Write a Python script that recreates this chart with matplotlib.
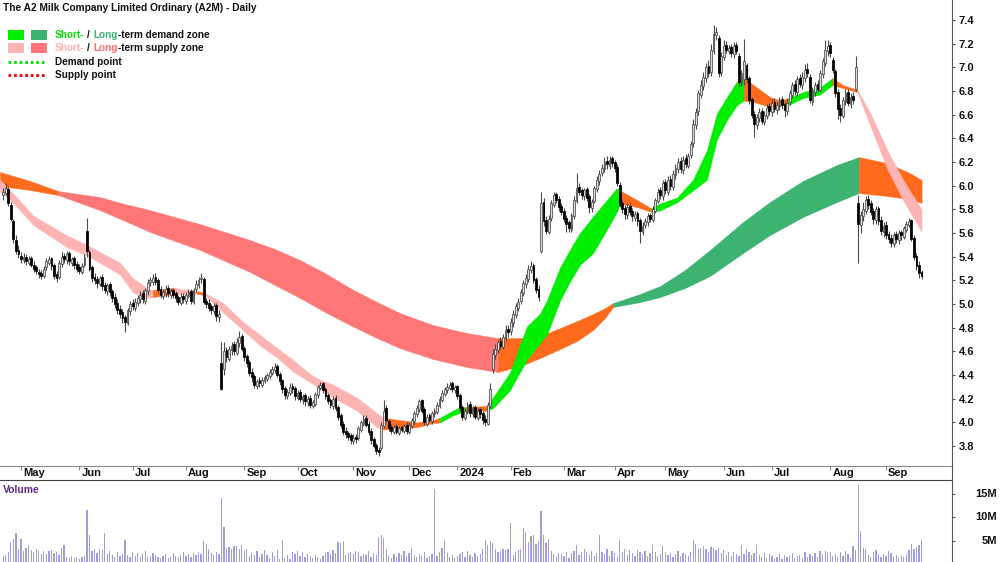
import numpy as np
import pandas as pd
import matplotlib
matplotlib.use("Agg")
import matplotlib.pyplot as plt
from matplotlib.patches import Rectangle
from matplotlib.lines import Line2D

plt.rcParams['font.family'] = ['Liberation Sans', 'DejaVu Sans']

# ---------------- data ----------------
start_date = '2023-04-19'
end_date = '2024-09-20'
holidays = ['2023-04-25', '2023-06-12', '2023-12-25', '2023-12-26', '2024-01-01',
            '2024-01-26', '2024-03-29', '2024-04-01', '2024-04-25', '2024-06-10']

opens = [5.92, 5.94, 5.97, 5.84, 5.70, 5.54, 5.46, 5.41, 5.37, 5.40,
         5.35, 5.39, 5.33, 5.31, 5.27, 5.26, 5.24, 5.31, 5.35, 5.39,
         5.33, 5.25, 5.23, 5.34, 5.41, 5.37, 5.43, 5.35, 5.39, 5.34,
         5.31, 5.27, 5.33, 5.62, 5.44, 5.31, 5.23, 5.21, 5.17, 5.23,
         5.16, 5.11, 5.17, 5.11, 5.06, 5.01, 4.96, 4.93, 4.89, 4.84,
         4.94, 5.01, 4.97, 5.01, 5.04, 5.09, 5.03, 5.11, 5.19, 5.19,
         5.23, 5.20, 5.13, 5.07, 5.09, 5.14, 5.08, 5.12, 5.09, 5.06,
         5.01, 5.07, 5.03, 5.07, 5.11, 5.02, 5.13, 5.16, 5.21, 5.21,
         5.03, 5.01, 4.98, 4.94, 4.99, 4.89, 4.50, 4.45, 4.61, 4.54,
         4.61, 4.66, 4.59, 4.67, 4.73, 4.63, 4.56, 4.51, 4.43, 4.39,
         4.31, 4.36, 4.32, 4.35, 4.37, 4.39, 4.42, 4.44, 4.48, 4.41,
         4.36, 4.29, 4.22, 4.25, 4.31, 4.29, 4.21, 4.26, 4.19, 4.23,
         4.17, 4.21, 4.14, 4.16, 4.23, 4.29, 4.33, 4.28, 4.23, 4.19,
         4.14, 4.21, 4.13, 4.06, 3.99, 3.93, 3.91, 3.89, 3.84, 3.88,
         3.87, 3.94, 3.99, 4.04, 3.99, 3.93, 3.86, 3.81, 3.77, 3.78,
         3.97, 4.12, 4.01, 3.96, 3.92, 3.97, 3.91, 3.96, 3.93, 3.98,
         3.92, 3.97, 4.01, 4.07, 4.11, 4.19, 4.11, 3.99, 4.06, 4.01,
         4.07, 4.09, 4.14, 4.19, 4.24, 4.27, 4.29, 4.33, 4.27, 4.31,
         4.23, 4.13, 4.04, 4.09, 4.16, 4.07, 4.13, 4.04, 4.11, 4.08,
         4.03, 3.99, 4.14, 4.45, 4.57, 4.61, 4.69, 4.64, 4.71, 4.79,
         4.77, 4.84, 4.91, 4.97, 5.03, 5.09, 5.17, 5.21, 5.29, 5.33,
         5.21, 5.13, 5.45, 5.86, 5.71, 5.61, 5.73, 5.84, 5.93, 5.89,
         5.83, 5.79, 5.73, 5.69, 5.63, 5.74, 5.87, 5.99, 5.96, 5.91,
         5.97, 5.91, 5.81, 5.87, 5.97, 6.04, 6.11, 6.14, 6.21, 6.17,
         6.23, 6.20, 6.16, 6.01, 5.85, 5.81, 5.75, 5.83, 5.79, 5.73,
         5.77, 5.71, 5.61, 5.67, 5.69, 5.75, 5.71, 5.79, 5.87, 5.96,
         5.91, 6.03, 5.95, 6.06, 5.99, 6.09, 6.14, 6.21, 6.13, 6.23,
         6.17, 6.26, 6.36, 6.51, 6.63, 6.77, 6.84, 6.91, 7.01, 6.96,
         7.14, 7.27, 7.25, 6.96, 7.09, 7.19, 7.14, 7.17, 7.11, 7.19,
         7.10, 6.87, 6.90, 7.02, 6.91, 6.73, 6.61, 6.51, 6.57, 6.63,
         6.54, 6.59, 6.67, 6.62, 6.71, 6.64, 6.67, 6.73, 6.69, 6.63,
         6.71, 6.77, 6.86, 6.79, 6.91, 6.85, 6.91, 6.99, 6.92, 6.71,
         6.79, 6.86, 6.81, 6.94, 7.04, 7.14, 7.19, 7.06, 6.97, 6.79,
         6.66, 6.59, 6.71, 6.79, 6.69, 6.76, 6.82, 5.85, 5.67, 5.74,
         5.79, 5.89, 5.85, 5.79, 5.71, 5.81, 5.71, 5.61, 5.67, 5.59,
         5.56, 5.51, 5.59, 5.54, 5.61, 5.57, 5.63, 5.67, 5.71, 5.56,
         5.41, 5.33, 5.27]

highs = [5.98, 6.02, 5.99, 5.86, 5.72, 5.58, 5.50, 5.44, 5.43, 5.42,
         5.41, 5.41, 5.36, 5.33, 5.30, 5.29, 5.32, 5.39, 5.41, 5.40,
         5.35, 5.28, 5.37, 5.44, 5.43, 5.45, 5.45, 5.40, 5.41, 5.36,
         5.34, 5.35, 5.42, 5.73, 5.46, 5.33, 5.26, 5.24, 5.24, 5.25,
         5.19, 5.18, 5.19, 5.13, 5.09, 5.04, 4.99, 4.96, 4.91, 4.97,
         5.03, 5.04, 5.05, 5.08, 5.11, 5.12, 5.14, 5.21, 5.23, 5.25,
         5.26, 5.22, 5.15, 5.13, 5.16, 5.16, 5.14, 5.14, 5.11, 5.08,
         5.09, 5.09, 5.10, 5.13, 5.13, 5.14, 5.20, 5.23, 5.26, 5.23,
         5.05, 5.04, 5.00, 5.01, 5.01, 4.95, 4.68, 4.68, 4.64, 4.65,
         4.68, 4.69, 4.71, 4.77, 4.75, 4.65, 4.58, 4.53, 4.46, 4.41,
         4.37, 4.38, 4.38, 4.40, 4.42, 4.45, 4.48, 4.50, 4.49, 4.43,
         4.37, 4.31, 4.28, 4.33, 4.33, 4.31, 4.27, 4.28, 4.24, 4.25,
         4.22, 4.23, 4.19, 4.26, 4.32, 4.34, 4.34, 4.30, 4.25, 4.21,
         4.22, 4.23, 4.15, 4.08, 4.01, 3.96, 3.93, 3.91, 3.90, 3.90,
         3.97, 4.02, 4.06, 4.06, 4.01, 3.95, 3.88, 3.83, 3.79, 4.00,
         4.19, 4.15, 4.03, 3.99, 3.98, 3.99, 3.97, 3.98, 3.99, 4.00,
         4.00, 4.04, 4.10, 4.15, 4.20, 4.20, 4.13, 4.07, 4.08, 4.10,
         4.12, 4.17, 4.22, 4.27, 4.30, 4.33, 4.34, 4.35, 4.32, 4.32,
         4.25, 4.15, 4.12, 4.17, 4.18, 4.14, 4.15, 4.12, 4.13, 4.10,
         4.06, 4.17, 4.33, 4.62, 4.66, 4.70, 4.72, 4.75, 4.82, 4.82,
         4.88, 4.95, 5.01, 5.05, 5.13, 5.20, 5.25, 5.33, 5.36, 5.35,
         5.23, 5.16, 5.95, 5.90, 5.74, 5.75, 5.88, 5.95, 5.95, 5.91,
         5.85, 5.81, 5.75, 5.71, 5.77, 5.91, 6.11, 6.02, 5.98, 5.98,
         5.99, 5.93, 5.89, 6.00, 6.08, 6.13, 6.18, 6.24, 6.25, 6.25,
         6.25, 6.22, 6.18, 6.03, 5.88, 5.84, 5.85, 5.86, 5.81, 5.79,
         5.79, 5.73, 5.69, 5.73, 5.77, 5.77, 5.83, 5.90, 5.98, 5.99,
         6.05, 6.06, 6.08, 6.09, 6.13, 6.18, 6.23, 6.24, 6.25, 6.27,
         6.28, 6.38, 6.56, 6.66, 6.81, 6.89, 6.96, 7.04, 7.06, 7.20,
         7.36, 7.34, 7.27, 7.13, 7.23, 7.22, 7.19, 7.20, 7.21, 7.21,
         7.12, 6.98, 7.24, 7.04, 6.93, 6.75, 6.63, 6.61, 6.66, 6.66,
         6.63, 6.69, 6.70, 6.73, 6.74, 6.71, 6.75, 6.76, 6.71, 6.73,
         6.81, 6.88, 6.89, 6.93, 6.94, 6.96, 7.03, 7.04, 6.94, 6.83,
         6.88, 6.89, 6.98, 7.08, 7.23, 7.23, 7.21, 7.09, 6.99, 6.82,
         6.69, 6.75, 6.82, 6.82, 6.78, 6.79, 7.10, 5.92, 5.79, 5.86,
         5.91, 5.92, 5.88, 5.81, 5.83, 5.83, 5.74, 5.69, 5.70, 5.62,
         5.59, 5.61, 5.62, 5.63, 5.63, 5.66, 5.70, 5.73, 5.72, 5.58,
         5.43, 5.36, 5.29]

lows = [5.88, 5.92, 5.83, 5.70, 5.52, 5.42, 5.39, 5.35, 5.35, 5.33,
        5.33, 5.31, 5.27, 5.25, 5.22, 5.21, 5.22, 5.29, 5.33, 5.29,
        5.21, 5.19, 5.21, 5.31, 5.35, 5.34, 5.33, 5.32, 5.30, 5.27,
        5.25, 5.25, 5.31, 5.40, 5.28, 5.19, 5.17, 5.14, 5.15, 5.12,
        5.09, 5.08, 5.07, 5.02, 4.97, 4.92, 4.88, 4.84, 4.76, 4.82,
        4.91, 4.95, 4.94, 4.98, 5.01, 5.01, 5.00, 5.08, 5.15, 5.16,
        5.16, 5.09, 5.05, 5.04, 5.06, 5.06, 5.05, 5.05, 5.02, 4.99,
        4.99, 5.01, 5.00, 5.05, 5.00, 5.00, 5.10, 5.14, 5.18, 5.00,
        4.97, 4.94, 4.92, 4.92, 4.86, 4.85, 4.27, 4.40, 4.51, 4.52,
        4.57, 4.57, 4.57, 4.64, 4.60, 4.52, 4.47, 4.39, 4.34, 4.29,
        4.28, 4.30, 4.30, 4.33, 4.35, 4.37, 4.40, 4.42, 4.38, 4.32,
        4.25, 4.20, 4.20, 4.23, 4.25, 4.19, 4.19, 4.17, 4.16, 4.14,
        4.14, 4.12, 4.12, 4.14, 4.21, 4.27, 4.25, 4.20, 4.16, 4.12,
        4.11, 4.10, 4.02, 3.95, 3.89, 3.87, 3.85, 3.82, 3.82, 3.83,
        3.85, 3.92, 3.97, 3.96, 3.89, 3.82, 3.78, 3.73, 3.72, 3.77,
        3.95, 4.00, 3.93, 3.90, 3.90, 3.90, 3.89, 3.92, 3.91, 3.90,
        3.90, 3.95, 3.99, 4.05, 4.09, 4.08, 3.98, 3.97, 4.00, 3.99,
        4.05, 4.07, 4.12, 4.17, 4.22, 4.25, 4.27, 4.26, 4.25, 4.20,
        4.10, 4.02, 4.02, 4.07, 4.05, 4.05, 4.03, 4.02, 4.04, 3.99,
        3.97, 3.98, 4.12, 4.42, 4.54, 4.59, 4.62, 4.62, 4.69, 4.72,
        4.74, 4.81, 4.88, 4.94, 5.00, 5.07, 5.14, 5.19, 5.26, 5.18,
        5.09, 5.03, 5.43, 5.66, 5.59, 5.59, 5.70, 5.82, 5.85, 5.79,
        5.75, 5.69, 5.61, 5.61, 5.61, 5.72, 5.85, 5.92, 5.89, 5.88,
        5.87, 5.77, 5.78, 5.85, 5.95, 6.01, 6.08, 6.12, 6.14, 6.14,
        6.16, 6.12, 6.00, 5.82, 5.77, 5.72, 5.72, 5.75, 5.70, 5.70,
        5.66, 5.52, 5.58, 5.64, 5.66, 5.69, 5.69, 5.77, 5.85, 5.89,
        5.88, 5.93, 5.92, 5.96, 5.96, 6.06, 6.11, 6.11, 6.10, 6.15,
        6.15, 6.23, 6.33, 6.48, 6.60, 6.74, 6.81, 6.88, 6.92, 6.93,
        7.11, 7.23, 6.92, 6.93, 7.06, 7.12, 7.11, 7.09, 7.08, 7.11,
        6.84, 6.84, 6.85, 6.87, 6.69, 6.57, 6.41, 6.48, 6.54, 6.52,
        6.51, 6.56, 6.60, 6.59, 6.62, 6.61, 6.64, 6.65, 6.58, 6.60,
        6.68, 6.74, 6.77, 6.76, 6.83, 6.82, 6.88, 6.92, 6.70, 6.68,
        6.76, 6.79, 6.79, 6.91, 7.01, 7.10, 7.09, 6.95, 6.75, 6.56,
        6.54, 6.57, 6.68, 6.67, 6.66, 6.69, 6.80, 5.35, 5.60, 5.70,
        5.76, 5.80, 5.75, 5.68, 5.68, 5.67, 5.58, 5.57, 5.55, 5.52,
        5.48, 5.48, 5.52, 5.51, 5.54, 5.55, 5.61, 5.65, 5.53, 5.37,
        5.29, 5.22, 5.21]

closes = [5.95, 5.98, 5.85, 5.72, 5.55, 5.45, 5.42, 5.38, 5.40, 5.36,
          5.38, 5.33, 5.30, 5.28, 5.25, 5.24, 5.30, 5.36, 5.38, 5.32,
          5.24, 5.22, 5.35, 5.40, 5.38, 5.42, 5.36, 5.38, 5.33, 5.30,
          5.28, 5.32, 5.40, 5.45, 5.30, 5.22, 5.20, 5.18, 5.22, 5.15,
          5.12, 5.16, 5.10, 5.05, 5.00, 4.95, 4.92, 4.88, 4.85, 4.95,
          5.00, 4.98, 5.02, 5.05, 5.08, 5.04, 5.12, 5.18, 5.20, 5.22,
          5.19, 5.12, 5.08, 5.10, 5.13, 5.09, 5.11, 5.08, 5.05, 5.02,
          5.06, 5.04, 5.08, 5.10, 5.03, 5.12, 5.17, 5.20, 5.22, 5.02,
          5.00, 4.97, 4.95, 4.98, 4.90, 4.92, 4.28, 4.60, 4.55, 4.62,
          4.65, 4.60, 4.68, 4.72, 4.62, 4.55, 4.50, 4.42, 4.38, 4.32,
          4.35, 4.33, 4.36, 4.38, 4.40, 4.43, 4.45, 4.47, 4.40, 4.35,
          4.28, 4.23, 4.26, 4.30, 4.28, 4.22, 4.25, 4.20, 4.22, 4.18,
          4.20, 4.15, 4.17, 4.24, 4.30, 4.32, 4.27, 4.22, 4.18, 4.15,
          4.20, 4.12, 4.05, 3.98, 3.92, 3.90, 3.88, 3.85, 3.87, 3.86,
          3.95, 4.00, 4.03, 3.98, 3.92, 3.85, 3.80, 3.76, 3.75, 3.98,
          4.10, 4.02, 3.95, 3.93, 3.96, 3.92, 3.95, 3.94, 3.97, 3.93,
          3.98, 4.02, 4.08, 4.12, 4.18, 4.10, 4.00, 4.05, 4.02, 4.08,
          4.10, 4.15, 4.20, 4.25, 4.28, 4.30, 4.32, 4.28, 4.30, 4.22,
          4.12, 4.05, 4.10, 4.15, 4.08, 4.12, 4.05, 4.10, 4.07, 4.02,
          4.00, 4.15, 4.28, 4.58, 4.62, 4.68, 4.65, 4.72, 4.78, 4.76,
          4.85, 4.92, 4.98, 5.02, 5.10, 5.18, 5.22, 5.30, 5.32, 5.20,
          5.12, 5.06, 5.85, 5.70, 5.62, 5.72, 5.85, 5.92, 5.88, 5.82,
          5.78, 5.72, 5.68, 5.64, 5.75, 5.88, 5.98, 5.95, 5.92, 5.96,
          5.90, 5.82, 5.86, 5.98, 6.05, 6.10, 6.15, 6.20, 6.18, 6.22,
          6.19, 6.15, 6.02, 5.84, 5.80, 5.76, 5.82, 5.78, 5.74, 5.76,
          5.70, 5.62, 5.66, 5.70, 5.74, 5.72, 5.80, 5.88, 5.95, 5.92,
          6.02, 5.96, 6.05, 6.00, 6.10, 6.15, 6.20, 6.14, 6.22, 6.18,
          6.25, 6.35, 6.52, 6.62, 6.78, 6.85, 6.92, 7.00, 6.95, 7.15,
          7.28, 7.30, 6.95, 7.10, 7.18, 7.15, 7.16, 7.12, 7.18, 7.14,
          6.88, 6.95, 7.05, 6.90, 6.72, 6.60, 6.52, 6.58, 6.62, 6.55,
          6.60, 6.66, 6.63, 6.70, 6.65, 6.68, 6.72, 6.68, 6.64, 6.70,
          6.78, 6.85, 6.80, 6.90, 6.86, 6.92, 6.98, 6.95, 6.72, 6.80,
          6.85, 6.82, 6.95, 7.05, 7.15, 7.18, 7.12, 6.98, 6.78, 6.65,
          6.60, 6.72, 6.78, 6.70, 6.75, 6.72, 7.00, 5.68, 5.75, 5.80,
          5.88, 5.84, 5.78, 5.72, 5.80, 5.70, 5.62, 5.66, 5.58, 5.55,
          5.52, 5.58, 5.55, 5.60, 5.58, 5.64, 5.68, 5.70, 5.55, 5.40,
          5.32, 5.26, 5.24]

volume_m = [1.8, 2.1, 2.6, 4.8, 5.4, 6.7, 3.2, 5.5, 2.8, 3.6,
            4.2, 3.1, 2.6, 3.4, 2.9, 2.2, 2.8, 2.3, 2.9, 3.0,
            2.4, 2.7, 2.0, 3.6, 4.1, 1.5, 1.3, 1.8, 1.4, 1.6,
            1.2, 1.7, 1.9, 11.6, 6.3, 2.8, 3.2, 2.5, 3.4, 3.0,
            6.7, 2.3, 2.9, 2.1, 1.6, 2.7, 1.8, 2.2, 5.2, 2.0,
            1.6, 2.6, 1.9, 2.4, 1.5, 2.2, 2.8, 1.7, 1.9, 2.4,
            2.1, 1.6, 1.3, 1.8, 2.3, 1.4, 1.7, 2.5, 1.9, 1.5,
            2.0, 2.6, 1.8, 2.2, 1.6, 2.4, 2.1, 2.7, 2.3, 5.0,
            4.3, 3.4, 2.4, 2.0, 2.6, 2.2, 14.1, 8.0, 3.6, 3.8,
            3.2, 4.0, 4.0, 3.4, 4.2, 2.8, 3.2, 1.8, 2.4, 2.0,
            2.9, 1.6, 2.3, 3.0, 2.1, 1.4, 2.6, 1.9, 3.1, 1.2,
            5.3, 1.4, 2.0, 1.2, 2.6, 2.2, 2.8, 1.9, 2.6, 1.6,
            2.2, 1.8, 1.3, 2.1, 1.7, 1.2, 1.9, 2.4, 2.7, 2.3,
            3.0, 2.4, 4.8, 4.6, 4.9, 2.1, 2.4, 2.7, 2.2, 2.9,
            2.6, 1.8, 2.3, 2.0, 2.9, 1.6, 2.5, 2.1, 5.8, 6.3,
            5.6, 3.4, 1.9, 1.4, 2.2, 1.6, 2.5, 2.0, 2.9, 1.8,
            2.4, 3.6, 2.0, 1.5, 2.2, 1.8, 2.6, 1.4, 1.9, 2.2,
            16.0, 1.8, 2.7, 3.6, 5.2, 2.4, 1.6, 2.0, 1.4, 1.9,
            2.2, 2.6, 1.5, 2.9, 2.0, 1.7, 2.5, 1.8, 2.2, 3.2,
            5.2, 4.1, 5.0, 4.6, 3.2, 2.6, 2.9, 3.4, 3.0, 3.2,
            8.8, 2.0, 2.6, 3.0, 3.3, 7.8, 7.0, 4.8, 6.1, 6.3,
            4.3, 5.0, 11.4, 6.3, 4.5, 5.4, 2.9, 2.2, 1.6, 2.5,
            2.2, 1.8, 2.7, 1.3, 2.4, 2.9, 4.1, 2.0, 2.6, 3.2,
            2.6, 2.1, 2.9, 1.8, 2.4, 6.3, 2.6, 2.2, 3.4, 1.9,
            2.9, 2.4, 1.6, 5.2, 2.7, 3.2, 2.1, 3.0, 2.4, 1.8,
            3.1, 2.6, 2.2, 2.8, 1.9, 2.4, 4.1, 2.6, 1.8, 2.2,
            4.0, 2.7, 2.0, 2.4, 1.6, 2.2, 2.8, 1.8, 2.5, 2.3,
            1.9, 2.6, 5.2, 4.4, 3.2, 3.6, 4.0, 3.4, 2.6, 3.8,
            3.6, 3.0, 3.5, 2.4, 3.0, 2.1, 2.6, 1.8, 2.7, 2.3,
            1.9, 4.1, 2.2, 3.4, 2.6, 2.0, 2.5, 4.2, 2.1, 1.7,
            2.4, 1.4, 2.2, 1.8, 1.1, 1.6, 2.3, 1.2, 2.0, 1.5,
            1.9, 2.5, 1.3, 1.8, 2.1, 1.4, 2.6, 1.7, 2.2, 1.9,
            2.4, 1.5, 2.8, 2.2, 2.9, 2.5, 2.7, 1.8, 2.3, 1.6,
            2.6, 1.8, 2.9, 2.2, 1.4, 3.9, 3.0, 16.9, 7.1, 3.6,
            3.3, 2.0, 1.7, 2.7, 3.0, 2.2, 1.5, 2.3, 1.9, 2.8,
            2.4, 1.6, 2.0, 1.4, 1.8, 1.5, 2.2, 3.1, 4.4, 3.4,
            3.8, 4.2, 5.2]

# short-term zone (positions in trading-day index)
short_idx = [-1.3, 2.7, 5.4, 11.7, 25.1, 33.0, 38.1, 46.0, 51.1, 56.7,
             59.0, 67.7, 76.4, 79.5, 86.6, 94.5, 101.2, 107.9, 114.2, 120.9,
             124.9, 130.0, 139.4, 147.3, 149.7, 156.4, 163.1, 169.4, 172.2, 177.3,
             180.0, 182.0, 190.7, 193.0, 199.7, 206.4, 211.6, 214.3, 219.5, 223.4,
             227.3, 232.5, 238.0, 241.9, 243.1, 249.8, 255.3, 258.9, 265.6, 271.9,
             277.4, 281.3, 285.3, 289.2, 292.0, 297.1, 302.2, 306.2, 309.3, 315.2,
             322.0, 326.9, 331.0, 336.7, 341.9, 348.5, 354.7, 362.0]
short_hi = [6.05, 5.96, 5.90, 5.75, 5.58, 5.50, 5.44, 5.35, 5.22, 5.135,
            5.12, 5.135, 5.11, 5.093, 5.01, 4.85, 4.74, 4.63, 4.53, 4.41,
            4.36, 4.32, 4.21, 4.08, 4.04, 4.02, 4.00, 4.02, 4.04, 4.10,
            4.13, 4.13, 4.14, 4.21, 4.42, 4.81, 4.92, 5.03, 5.31, 5.46,
            5.60, 5.74, 5.88, 5.98, 5.96, 5.88, 5.81, 5.85, 5.90, 6.05,
            6.30, 6.61, 6.75, 6.88, 6.91, 6.83, 6.75, 6.72, 6.74, 6.79,
            6.83, 6.91, 6.85, 6.81, 6.61, 6.30, 6.05, 5.80]
short_lo = [5.95, 5.88, 5.82, 5.67, 5.48, 5.41, 5.35, 5.25, 5.10, 5.05,
            5.06, 5.085, 5.085, 5.076, 4.93, 4.78, 4.65, 4.55, 4.43, 4.34,
            4.29, 4.21, 4.10, 3.96, 3.94, 3.95, 3.96, 3.995, 4.00, 4.06,
            4.08, 4.09, 4.10, 4.12, 4.27, 4.53, 4.67, 4.74, 5.03, 5.19,
            5.33, 5.43, 5.63, 5.78, 5.85, 5.82, 5.78, 5.79, 5.86, 5.96,
            6.05, 6.39, 6.555, 6.68, 6.72, 6.70, 6.665, 6.68, 6.68, 6.74,
            6.77, 6.85, 6.825, 6.79, 6.50, 6.14, 5.88, 5.61]
short_state = ("SSSSSSSSSS" "N" "S" "N" "S" "SSSSSSSSSS" "NNNN" "DDD" "N" "D"
               "DDDDDDDDDDD" "NN" "D" "DDDDDDD" "NNNN" "DDD" "NN" "SSSSS")

# long-term zone
long_idx = [-1.3, 10.6, 21.6, 38.1, 48.0, 57.9, 67.7, 77.6, 87.4, 97.3,
            107.1, 117.0, 126.8, 136.7, 146.5, 156.4, 169.4, 182.8, 195.0, 203.7,
            211.6, 219.5, 226.2, 232.5, 237.2, 240.4, 251.0, 258.9, 268.7, 278.6,
            291.6, 302.2, 315.2, 328.6, 337.3, 348.4, 357.4, 362.0]
long_hi = [6.116, 6.040, 5.955, 5.904, 5.845, 5.794, 5.735, 5.676, 5.609, 5.541,
           5.465, 5.372, 5.262, 5.135, 5.026, 4.924, 4.823, 4.755, 4.713, 4.713,
           4.730, 4.797, 4.857, 4.916, 4.966, 5.009, 5.085, 5.152, 5.287, 5.457,
           5.693, 5.862, 6.040, 6.175, 6.242, 6.192, 6.107, 6.048]
long_lo = [5.997, 5.964, 5.921, 5.794, 5.702, 5.609, 5.533, 5.457, 5.364, 5.271,
           5.161, 5.051, 4.933, 4.823, 4.721, 4.628, 4.536, 4.468, 4.426, 4.476,
           4.544, 4.620, 4.688, 4.781, 4.882, 4.975, 5.017, 5.059, 5.135, 5.237,
           5.431, 5.583, 5.735, 5.862, 5.938, 5.913, 5.887, 5.854]
long_state = "NN" "SSSSSSSSSSSSSSSS" "NNNNNNN" "DDDDDDDDD" "NNNN"

price_ticks = [3.8, 4.0, 4.2, 4.4, 4.6, 4.8, 5.0, 5.2, 5.4, 5.6, 5.8,
               6.0, 6.2, 6.4, 6.6, 6.8, 7.0, 7.2, 7.4]
volume_ticks_m = [5, 10, 15]
volume_tick_labels = ['5M', '10M', '15M']

title = "The A2 Milk Company Limited Ordinary (A2M) - Daily"

# ---------------- colours ----------------
SHORT_COL = {'D': '#00ee00', 'S': '#ffb4b4', 'N': '#ff6a1c'}
LONG_COL = {'D': '#3cb371', 'S': '#ff7676', 'N': '#ff6a1c'}
UP_FACE, DOWN_FACE, EDGE = '#dcdcdc', 'black', '#4a4a4a'
VOL_COL = '#9d9de0'
TXT = '#111111'

W, H = 1000, 562
fig = plt.figure(figsize=(W / 100, H / 100), dpi=100)

main_top, main_bot = 0, 466
vol_top, vol_bot = 480, 562
x_right = 952

ax = fig.add_axes([0, 1 - main_bot / H, x_right / W, (main_bot - main_top) / H])
axv = fig.add_axes([0, 0, x_right / W, (vol_bot - vol_top) / H])

dates = pd.bdate_range(start_date, end_date)
dates = dates[~dates.isin(pd.to_datetime(holidays))]
n = len(closes)
xs = np.arange(n)

o = np.array(opens); h = np.array(highs); l = np.array(lows); c = np.array(closes)


def draw_zone(axis, idx, hi, lo, states, cmap, z):
    idx = np.asarray(idx); hi = np.asarray(hi); lo = np.asarray(lo)
    k = 0
    m = len(idx)
    while k < m - 1:
        s = states[k]
        j = k
        while j < m - 1 and states[j] == s:
            j += 1
        axis.fill_between(idx[k:j + 1], lo[k:j + 1], hi[k:j + 1], color=cmap[s],
                          lw=0.3, edgecolor=cmap[s], zorder=z)
        k = j


draw_zone(ax, long_idx, long_hi, long_lo, long_state, LONG_COL, 1)
draw_zone(ax, short_idx, short_hi, short_lo, short_state, SHORT_COL, 2)

# candles
ax.vlines(xs, l, h, color=EDGE, lw=0.8, zorder=3)
up = c >= o
body_lo = np.minimum(o, c)
body_h = np.maximum(np.abs(c - o), 0.006)
ax.bar(xs[up], body_h[up], bottom=body_lo[up], width=0.72, color=UP_FACE,
       edgecolor=EDGE, linewidth=0.55, zorder=4)
ax.bar(xs[~up], body_h[~up], bottom=body_lo[~up], width=0.72, color=DOWN_FACE,
       edgecolor='black', linewidth=0.55, zorder=4)

x_lo, x_hi = -1.28, 374
ax.set_xlim(x_lo, x_hi)
ax.set_ylim(3.632, 7.569)

for s in ['top', 'left']:
    ax.spines[s].set_visible(False)
ax.spines['right'].set_color('#555555')
ax.spines['bottom'].set_color('#8a8a8a')
ax.yaxis.tick_right()
ax.set_yticks(price_ticks)
ax.set_yticklabels([f"{v:.1f}" for v in price_ticks])
ax.tick_params(axis='y', direction='out', length=2, pad=3, labelsize=8,
               colors='#555555', labelcolor=TXT)
for t in ax.get_yticklabels():
    t.set_fontweight('bold')

# month ticks
month_pos, month_lab = [], []
for i in range(1, min(n, len(dates))):
    if dates[i].month != dates[i - 1].month:
        month_pos.append(i)
        month_lab.append(str(dates[i].year) if dates[i].month == 1 else dates[i].strftime('%b'))
ax.set_xticks(month_pos)
ax.set_xticklabels([])
ax.tick_params(axis='x', direction='out', length=3, colors='#8a8a8a')
for p, lab in zip(month_pos, month_lab):
    xf = (p - x_lo) / (x_hi - x_lo) * x_right + 2
    fig.text(xf / W, 1 - 473.5 / H, lab, fontsize=8, fontweight='bold',
             ha='left', va='center', color=TXT)

# volume panel
axv.bar(xs, np.array(volume_m) * 1e6, width=0.5, color=VOL_COL, zorder=2)
axv.set_xlim(x_lo, x_hi)
axv.set_ylim(0.53e6, 17.98e6)
for s in ['bottom', 'left']:
    axv.spines[s].set_visible(False)
axv.spines['top'].set_color('#444444')
axv.spines['right'].set_color('#555555')
axv.set_xticks([])
axv.yaxis.tick_right()
axv.set_yticks([v * 1e6 for v in volume_ticks_m])
axv.set_yticklabels([])
axv.tick_params(axis='y', direction='out', length=2, colors='#555555')
vol_lo, vol_hi = axv.get_ylim()
for v, lab in zip(volume_ticks_m, volume_tick_labels):
    yfrac = (v * 1e6 - vol_lo) / (vol_hi - vol_lo)
    y_px = vol_bot - yfrac * (vol_bot - vol_top)
    fig.text(997 / W, 1 - y_px / H, lab, fontsize=8, fontweight='bold',
             ha='right', va='center', color=TXT)

# vertical line across the date strip
fig.add_artist(Line2D([x_right / W, x_right / W], [1 - vol_top / H, 1 - main_bot / H],
                      transform=fig.transFigure, color='#555555', lw=0.8))

# title and volume label
fig.text(3 / W, 1 - 8 / H, title, fontsize=7.3, fontweight='bold', ha='left',
         va='center', color=TXT)
fig.text(3 / W, 1 - 490 / H, 'Volume', fontsize=7.5, fontweight='bold', ha='left',
         va='center', color='#5b2a8c')

# legend
fig.add_artist(Rectangle((8 / W, 1 - 40 / H), 16 / W, 10 / H, transform=fig.transFigure,
                         color=SHORT_COL['D'], lw=0))
fig.add_artist(Rectangle((31 / W, 1 - 40 / H), 16 / W, 10 / H, transform=fig.transFigure,
                         color=LONG_COL['D'], lw=0))
fig.add_artist(Rectangle((8 / W, 1 - 53 / H), 16 / W, 10 / H, transform=fig.transFigure,
                         color=SHORT_COL['S'], lw=0))
fig.add_artist(Rectangle((31 / W, 1 - 53 / H), 16 / W, 10 / H, transform=fig.transFigure,
                         color=LONG_COL['S'], lw=0))
fig.add_artist(Line2D([8 / W, 45 / W], [1 - 62 / H, 1 - 62 / H], transform=fig.transFigure,
                      color='#00dd00', lw=2, linestyle=(0, (1, 1))))
fig.add_artist(Line2D([8 / W, 45 / W], [1 - 75 / H, 1 - 75 / H], transform=fig.transFigure,
                      color='#ee0000', lw=2, linestyle=(0, (1, 1))))

renderer = fig.canvas.get_renderer()
LEG_FS = 7.2


def rich(x_px, y_px, parts):
    x = x_px
    for s, col, gap in parts:
        t = fig.text(x / W, 1 - y_px / H, s, fontsize=LEG_FS, fontweight='bold', color=col,
                     ha='left', va='center')
        x += t.get_window_extent(renderer=renderer).width + gap


rich(55, 35, [("Short-", '#00e000', 3), ("/", TXT, 3), ("Long", '#3cb371', 0),
              ("-term demand zone", TXT, 0)])
rich(55, 48, [("Short-", '#ffb0b0', 3), ("/", TXT, 3), ("Long", '#ff6f6f', 0),
              ("-term supply zone", TXT, 0)])
fig.text(55 / W, 1 - 62 / H, "Demand point", fontsize=LEG_FS, fontweight='bold', color=TXT,
         ha='left', va='center')
fig.text(55 / W, 1 - 75 / H, "Supply point", fontsize=LEG_FS, fontweight='bold', color=TXT,
         ha='left', va='center')

fig.savefig('out.png', dpi=100)
print(n, len(opens), len(highs), len(lows), len(volume_m), len(dates),
      len(short_idx), len(short_hi), len(short_lo), len(short_state),
      len(long_idx), len(long_hi), len(long_lo), len(long_state))
